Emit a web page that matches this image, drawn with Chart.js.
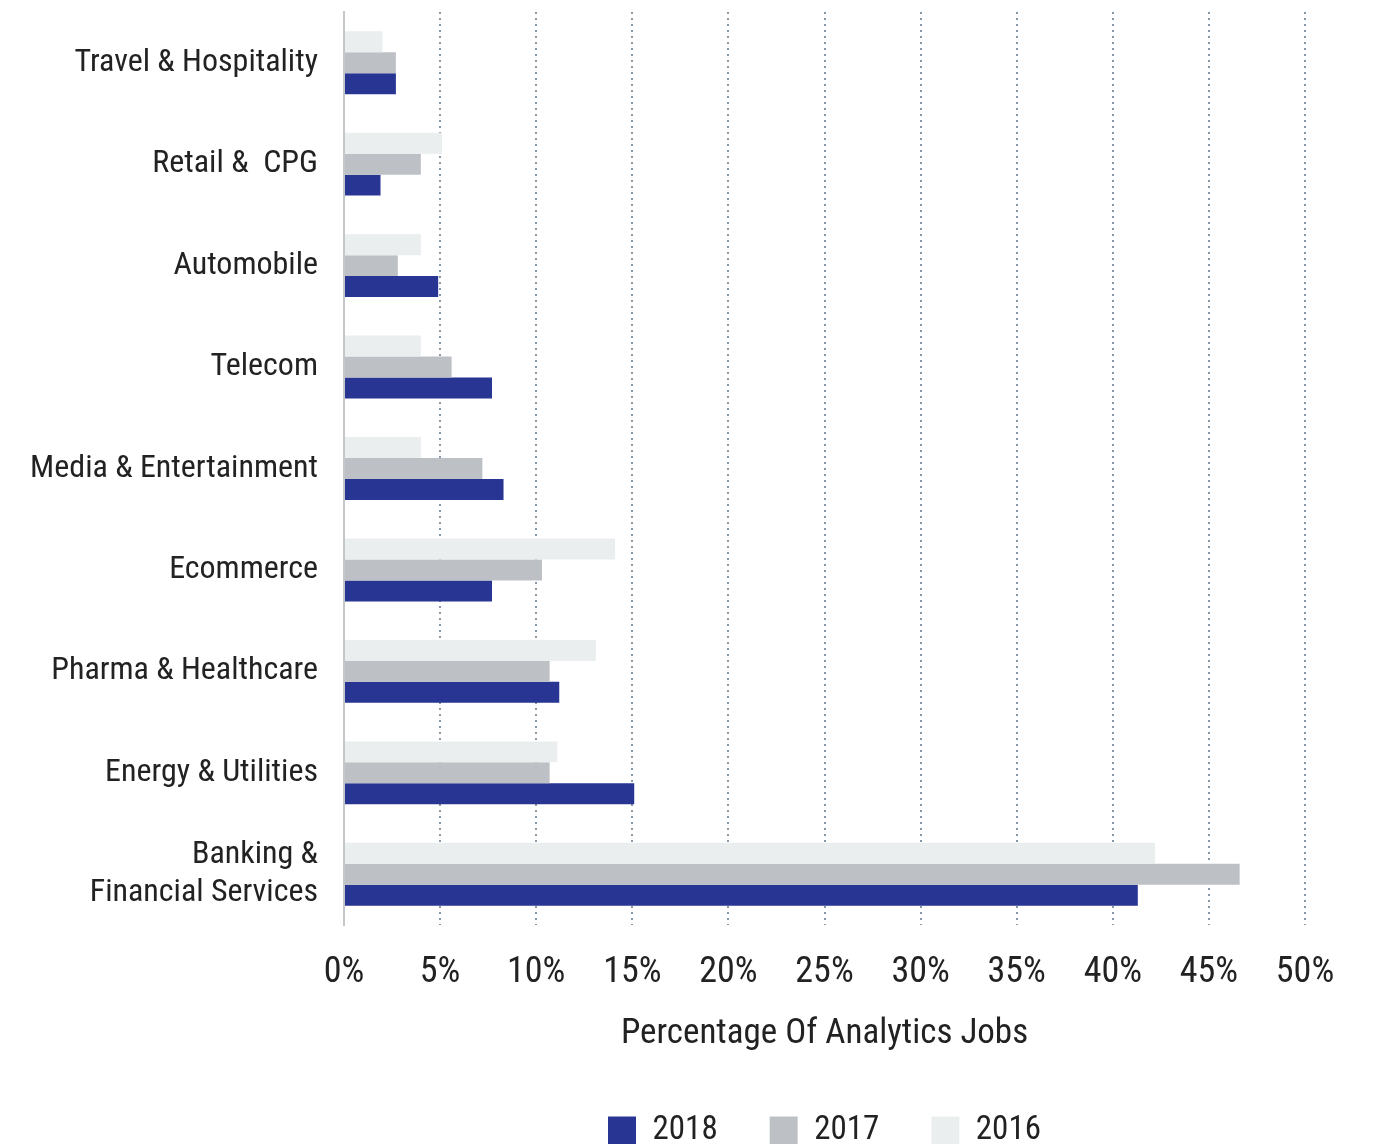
<!DOCTYPE html>
<html>
<head>
<meta charset="utf-8">
<script src="https://cdn.jsdelivr.net/npm/chart.js@4.4.1/dist/chart.umd.min.js"></script>
<style>
  html, body { margin: 0; padding: 0; background: #fff; }
  #wrap { width: 1379px; height: 1144px; }
</style>
</head>
<body>
<div id="wrap"><canvas id="chart"></canvas></div>
<script>
const categories = [
  "Travel & Hospitality",
  "Retail &  CPG",
  "Automobile",
  "Telecom",
  "Media & Entertainment",
  "Ecommerce",
  "Pharma & Healthcare",
  "Energy & Utilities",
  ["Banking &", "Financial Services"]
];
const values2016 = [2.0, 5.1, 4.0, 4.0, 4.0, 14.1, 13.1, 11.1, 42.2];
const values2017 = [2.7, 4.0, 2.8, 5.6, 7.2, 10.3, 10.7, 10.7, 46.6];
const values2018 = [2.7, 1.9, 4.9, 7.7, 8.3, 7.7, 11.2, 15.1, 41.3];
const xTicks = [0, 5, 10, 15, 20, 25, 30, 35, 40, 45, 50];

const font = "'Liberation Sans Narrow', 'Arial Narrow', 'Roboto Condensed', 'DejaVu Sans Condensed', sans-serif";
Chart.defaults.font.family = font;
Chart.defaults.color = "#222";

new Chart(document.querySelector("#chart"), {
  type: "bar",
  data: {
    labels: categories,
    datasets: [
      { label: "2016", data: values2016, backgroundColor: "#eaeeef" },
      { label: "2017", data: values2017, backgroundColor: "#bdc1c5" },
      { label: "2018", data: values2018, backgroundColor: "#283593" }
    ]
  },
  options: {
    indexAxis: "y",
    responsive: true,
    maintainAspectRatio: false,
    animation: false,
    datasets: { bar: { barPercentage: 1, categoryPercentage: 0.62 } },
    layout: { padding: { top: 12, right: 74, left: 0, bottom: -13 } },
    plugins: {
      tooltip: { enabled: false },
      legend: {
        position: "bottom",
        fullSize: false,
        reverse: true,
        labels: {
          boxWidth: 28,
          boxHeight: 28,
          padding: 52,
          font: { size: 33 },
          color: "#222"
        }
      }
    },
    scales: {
      x: {
        min: 0,
        max: 50,
        afterBuildTicks: s => { s.ticks = xTicks.map(v => ({ value: v })); },
        ticks: {
          callback: v => v + "%",
          font: { size: 36 },
          color: "#222",
          padding: 26,
          maxRotation: 0
        },
        grid: {
          color: ctx => ctx.index === 0 ? "rgba(0,0,0,0)" : "#8797aa",
          lineWidth: 2,
          drawTicks: false
        },
        border: { display: false, dash: [2, 4] },
        title: {
          display: true,
          text: "Percentage Of Analytics Jobs",
          font: { size: 35 },
          color: "#222",
          padding: { top: 0, bottom: 7 }
        },
        afterFit: s => { s.height = 137; }
      },
      y: {
        grid: { display: false, drawTicks: false },
        border: { display: true, color: "#c2c7cc", width: 2 },
        ticks: {
          font: { size: 32 },
          color: "#222",
          padding: 26,
          crossAlign: "near"
        },
        afterFit: s => { s.width = 344; s.paddingTop = 0; s.paddingBottom = 0; }
      }
    }
  }
});
</script>
</body>
</html>
